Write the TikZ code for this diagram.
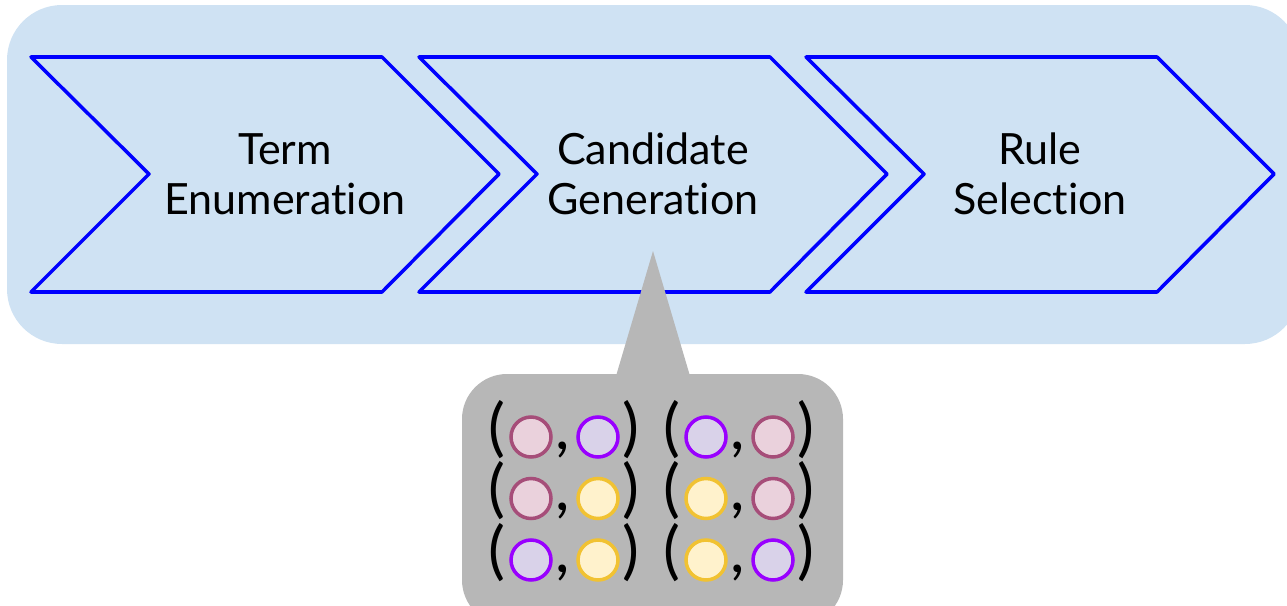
\documentclass[tikz,border=0pt]{standalone}
\usepackage{fontspec}
\setmainfont[Ligatures=NoCommon]{Lato}

\definecolor{panelblue}{HTML}{CFE2F3}
\definecolor{stageblue}{HTML}{0000FF}
\definecolor{boxgray}{HTML}{B7B7B7}
\definecolor{pinkfill}{HTML}{EAD1DC}
\definecolor{pinkline}{HTML}{A64D79}
\definecolor{violetfill}{HTML}{D9D2E9}
\definecolor{violetline}{HTML}{9900FF}
\definecolor{yellowfill}{HTML}{FFF2CC}
\definecolor{yellowline}{HTML}{F1C232}

\tikzset{
  stage/.style={draw=stageblue, line width=2pt, line join=round},
  stagelabel/.style={align=center, inner sep=0pt, font=\fontsize{24.5}{28.5}\selectfont},
  dot/.style={circle, minimum size=0.8cm, inner sep=0pt, line width=2pt},
  pk/.style={dot, draw=pinkline, fill=pinkfill},
  vi/.style={dot, draw=violetline, fill=violetfill},
  ye/.style={dot, draw=yellowline, fill=yellowfill},
  paren/.style={anchor=base, inner sep=0pt, font=\fontsize{36}{36}\selectfont},
}

\begin{document}
\begin{tikzpicture}[x=0.02cm, y=-0.02cm]
  \useasboundingbox (0,0) rectangle (1287,605);
  \fill[panelblue, rounded corners=1.1cm] (7,5) rectangle (1300,344);

  % the three stages
  \foreach \x in {31,419,806}
    \draw[stage] (\x,57) -- ++(351,0) -- ++(117,117) -- ++(-117,118) -- ++(-351,0)
      -- ++(118,-118) -- cycle;
  \node[stagelabel] (term) at (285,174) {Term\\Enumeration};
  \node[stagelabel] (cand) at (653,174) {Candidate\\Generation};
  \node[stagelabel] (rule) at (1040,174) {Rule\\Selection};

  % callout with the candidate pairs
  \coordinate (tip) at (653,251);
  \fill[boxgray, rounded corners=0.9cm] (462,374) rectangle (843,625);
  \fill[boxgray] (616,376) -- (tip) -- (690,376) -- cycle;

  \foreach \a/\b [count=\i from 0] in {pk/vi, pk/ye, vi/ye} {
    \pgfmathsetmacro{\y}{437+61.5*\i}
    \pgfmathsetmacro{\yb}{449+61.5*\i}
    \foreach \c/\l/\r [count=\j] in {0/\a/\b, 175/\b/\a} {
      \node[paren] (lp\i\j) at (497+\c,\yb) {(};
      \node[\l] (l\i\j) at (531+\c,\y) {};
      \node[paren] (cm\i\j) at (563+\c,\yb) {,};
      \node[\r] (r\i\j) at (598+\c,\y) {};
      \node[paren] (rp\i\j) at (631+\c,\yb) {)};
    }
  }
\end{tikzpicture}
\end{document}
